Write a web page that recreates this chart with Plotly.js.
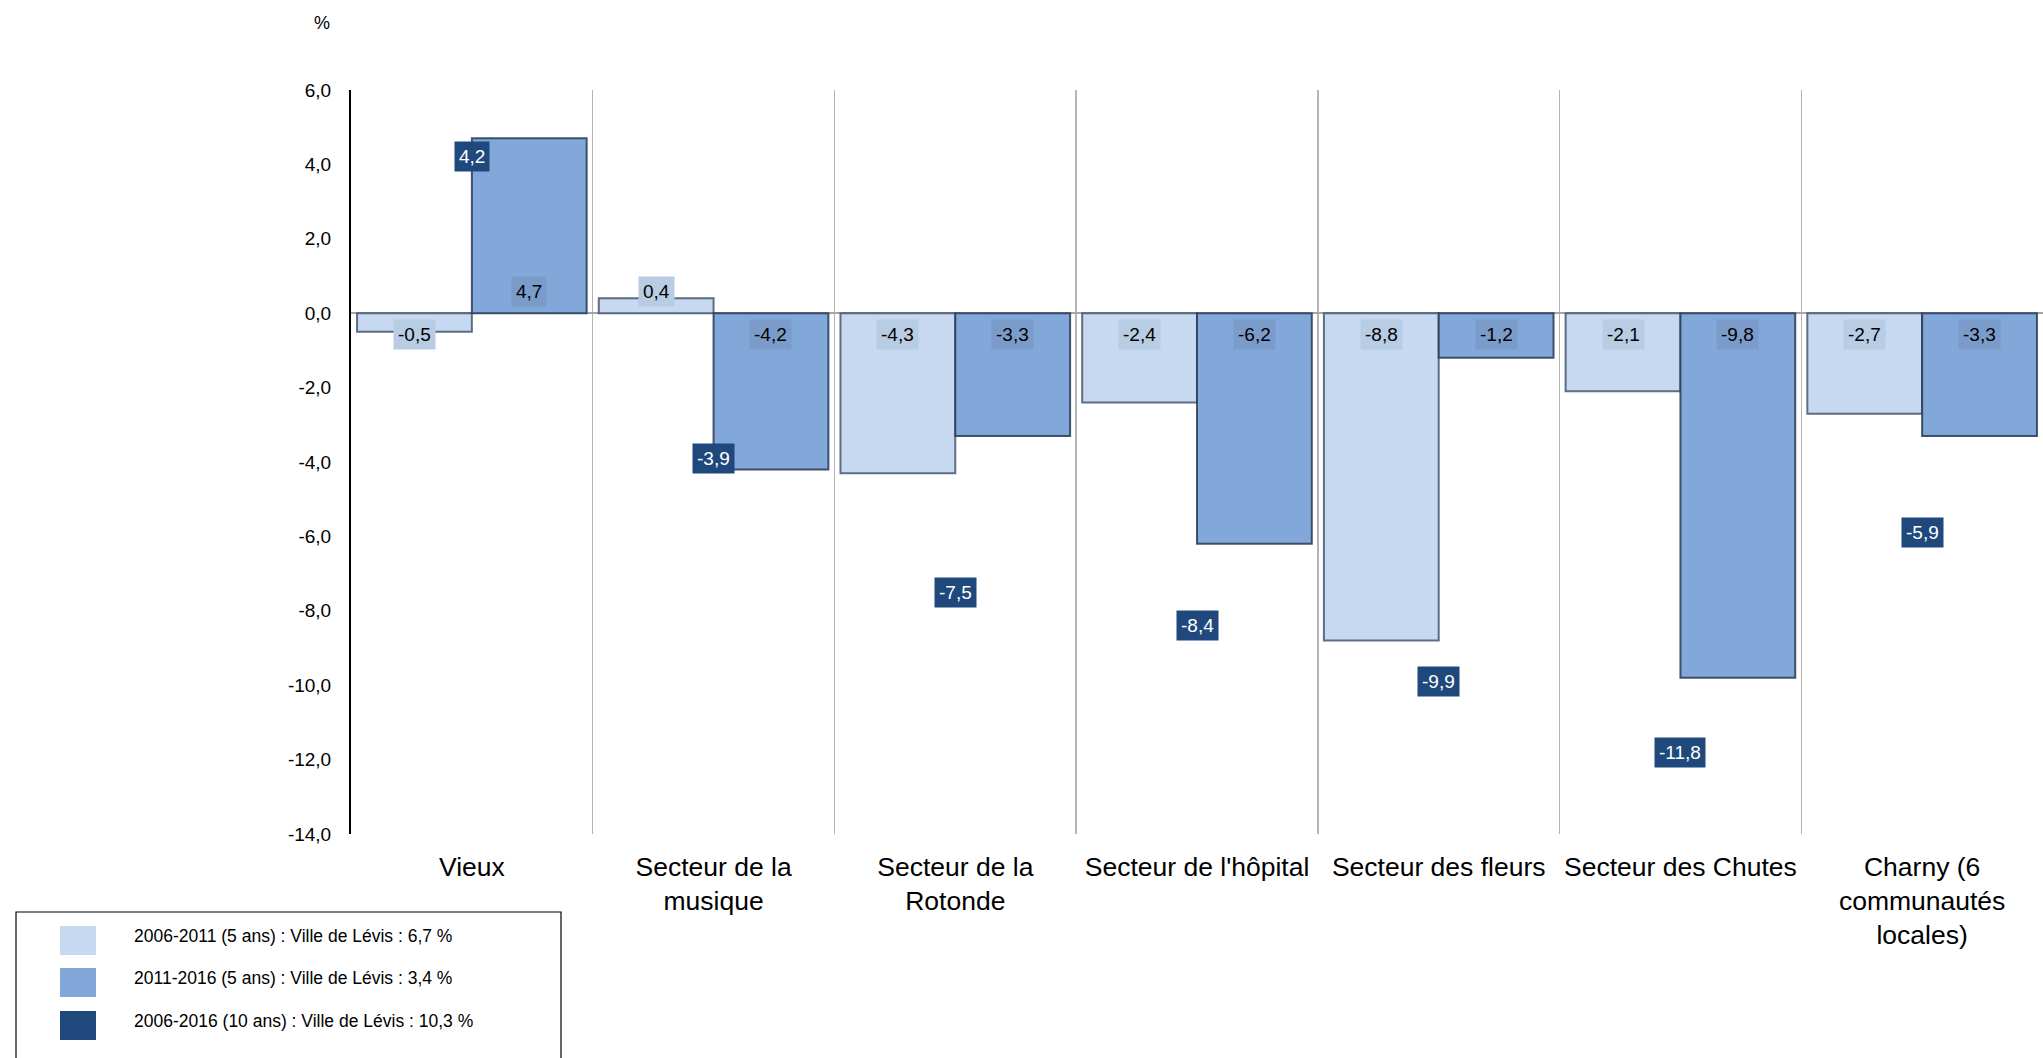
<!DOCTYPE html>
<html>
<head>
<meta charset="utf-8">
<script src="https://cdn.plot.ly/plotly-3.0.1.min.js"></script>
<style>html,body{margin:0;padding:0;background:#fff;}#chart{width:2043px;height:1058px;}</style>
</head>
<body>
<div id="chart"></div>
<script>
// ---- data ----
const categories = ['Vieux', 'Secteur de la<br>musique', 'Secteur de la<br>Rotonde', "Secteur de l'hôpital", 'Secteur des fleurs', 'Secteur des Chutes', 'Charny (6<br>communautés<br>locales)'];
const growth0611 = [-0.5, 0.4, -4.3, -2.4, -8.8, -2.1, -2.7];
const growth1116 = [4.7, -4.2, -3.3, -6.2, -1.2, -9.8, -3.3];
const growth0616 = [4.2, -3.9, -7.5, -8.4, -9.9, -11.8, -5.9];
const seriesNames = ['2006-2011 (5 ans) : Ville de Lévis : 6,7 %', '2011-2016 (5 ans) : Ville de Lévis : 3,4 %', '2006-2016 (10 ans) : Ville de Lévis : 10,3 %'];
const yTickVals = [6, 4, 2, 0, -2, -4, -6, -8, -10, -12, -14];
const yTickText = ['6,0', '4,0', '2,0', '0,0', '-2,0', '-4,0', '-6,0', '-8,0', '-10,0', '-12,0', '-14,0'];
const yTitle = '%';

// ---- styles ----
const W = 2043, H = 1058;
const M = {l: 351, r: 0, t: 90, b: 224};
const colLight = '#c6d9f1', colMed = '#81a8d8', colDark = '#1f497d';
const lblLight = '#b8cce4', lblMed = '#7b9ccb';
const narrow = '"Liberation Sans Narrow", "Arial Narrow", "Liberation Sans", Arial, sans-serif';
const regular = '"Liberation Sans", Arial, sans-serif';
const pw = W - M.l - M.r, ph = H - M.t - M.b;
const px2x = p => (p - M.l) / pw;
const px2y = p => (H - M.b - p) / ph;
const fmt = v => v.toFixed(1).replace('.', ',');

const bargap = 0.05;
const half = (1 - bargap) / 4; // center offset of each bar in a group

const traces = [
  {type: 'bar', name: seriesNames[0], x: categories, y: growth0611,
   marker: {color: colLight, line: {color: 'rgba(60,78,105,0.8)', width: 2}}},
  {type: 'bar', name: seriesNames[1], x: categories, y: growth1116,
   marker: {color: colMed, line: {color: 'rgba(40,58,85,0.85)', width: 2}}},
  {type: 'scatter', mode: 'markers', name: seriesNames[2], x: categories, y: growth0616,
   marker: {symbol: 'square', size: 6, color: colDark}}
];

const annotations = [];
growth0611.forEach((v, i) => annotations.push({
  x: i - half, y: 0, xref: 'x', yref: 'y', text: fmt(v), showarrow: false,
  yanchor: v < 0 ? 'top' : 'bottom', yshift: v < 0 ? -6 : 6,
  bgcolor: lblLight, borderpad: 4, font: {family: narrow, size: 19, color: '#000'}
}));
growth1116.forEach((v, i) => annotations.push({
  x: i + half, y: 0, xref: 'x', yref: 'y', text: fmt(v), showarrow: false,
  yanchor: v < 0 ? 'top' : 'bottom', yshift: v < 0 ? -6 : 6,
  bgcolor: lblMed, borderpad: 4, font: {family: narrow, size: 19, color: '#000'}
}));
growth0616.forEach((v, i) => annotations.push({
  x: i, y: v, xref: 'x', yref: 'y', text: fmt(v), showarrow: false,
  xanchor: 'center', yanchor: 'middle',
  bgcolor: colDark, borderpad: 4, font: {family: narrow, size: 19, color: '#fff'}
}));
// y title
annotations.push({x: px2x(322), y: px2y(23), xref: 'paper', yref: 'paper', text: yTitle,
  showarrow: false, xanchor: 'center', yanchor: 'middle', font: {family: regular, size: 18, color: '#000'}});

// legend (drawn manually to match the boxed legend)
const shapes = [{type: 'rect', xref: 'paper', yref: 'paper', x0: px2x(16), x1: px2x(561), y0: px2y(912), y1: px2y(1080),
  line: {color: '#000', width: 1.2}, fillcolor: 'rgba(0,0,0,0)'}];
const legColors = [colLight, colMed, colDark];
const legRows = [940, 982, 1025];
seriesNames.forEach((n, k) => {
  shapes.push({type: 'rect', xref: 'paper', yref: 'paper', x0: px2x(60), x1: px2x(96),
    y0: px2y(legRows[k] - 14), y1: px2y(legRows[k] + 15), line: {width: 0}, fillcolor: legColors[k]});
  annotations.push({x: px2x(132), y: px2y(legRows[k] - 4), xref: 'paper', yref: 'paper', text: n, showarrow: false,
    xanchor: 'left', yanchor: 'middle', font: {family: narrow, size: 17.5, color: '#000'}});
});

const layout = {
  width: W, height: H, margin: M,
  paper_bgcolor: '#fff', plot_bgcolor: '#fff',
  showlegend: false, barmode: 'group', bargap: bargap, bargroupgap: 0,
  separators: ', ',
  font: {family: regular, color: '#000'},
  xaxis: {type: 'category', tickson: 'boundaries', showgrid: true, gridcolor: '#b4b4b4', gridwidth: 1.5,
    ticks: '', showline: false, zeroline: false, ticklabelstandoff: 14, tickangle: 0,
    tickfont: {family: regular, size: 26.5, color: '#000'}, range: [-0.5, 6.5]},
  yaxis: {range: [-14, 6], tickmode: 'array', tickvals: yTickVals, ticktext: yTickText, showgrid: false,
    zeroline: true, zerolinecolor: '#a6a6a6', zerolinewidth: 2,
    showline: true, linecolor: '#000', linewidth: 2, ticks: '', ticklabelstandoff: 14,
    tickfont: {family: regular, size: 19, color: '#000'}},
  annotations: annotations, shapes: shapes
};

Plotly.newPlot('chart', traces, layout, {displayModeBar: false, staticPlot: true});
</script>
</body>
</html>
